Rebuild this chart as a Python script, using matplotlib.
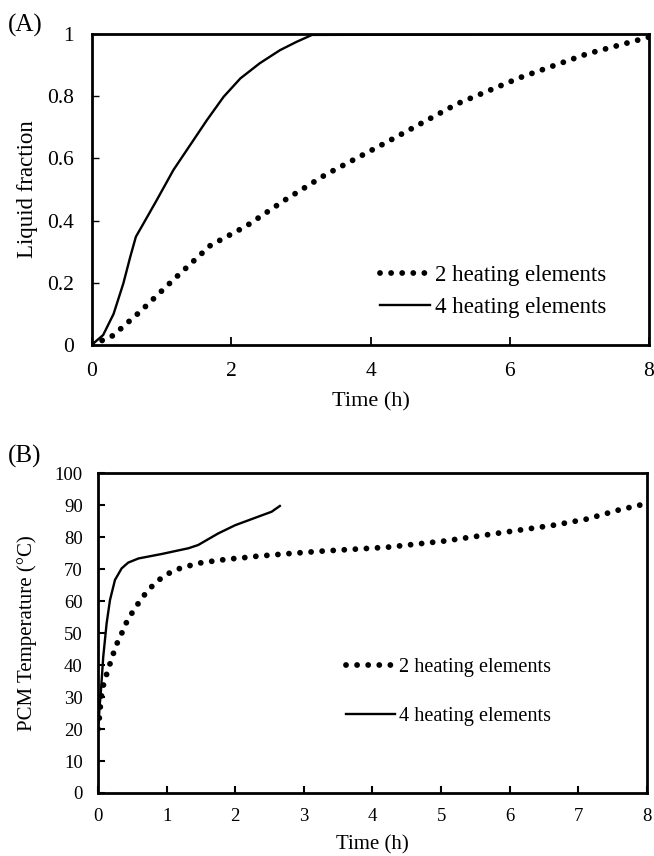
import numpy as np
import matplotlib
matplotlib.use('Agg')
from matplotlib import pyplot as plt

plt.rcParams['font.family'] = ['Liberation Serif', 'DejaVu Serif']

# (A) liquid fraction vs time
t2_frac = [0.0, 0.16, 0.30, 0.69, 1.17, 1.70, 2.22, 2.77, 3.35, 4.24, 5.24, 6.15, 7.11, 7.90, 8.0]
frac2 = [0.0, 0.016, 0.03, 0.107, 0.21, 0.32, 0.383, 0.466, 0.547, 0.653, 0.775, 0.86, 0.936, 0.984, 0.99]
t4_frac = [0.0, 0.02, 0.16, 0.31, 0.45, 0.55, 0.63, 0.74, 0.93, 1.17, 1.41, 1.65, 1.89,
           2.13, 2.41, 2.70, 2.94, 3.16, 8.0]
frac4 = [0.0, 0.005, 0.032, 0.10, 0.198, 0.284, 0.348, 0.391, 0.466, 0.563, 0.643, 0.723, 0.798,
         0.857, 0.906, 0.948, 0.975, 0.997, 1.0]

# (B) PCM temperature vs time
t2_temp = [0.0, 0.015, 0.03, 0.044, 0.063, 0.11, 0.16, 0.21, 0.26, 0.33, 0.39, 0.47, 0.56, 0.65,
           0.75, 0.87, 1.0, 1.15, 1.31, 1.46, 1.62, 1.79, 1.95, 2.11, 2.27, 2.43, 2.6, 2.77,
           3.27, 4.21, 5.03, 5.83, 6.64, 7.12, 7.58, 7.9, 8.0]
temp2 = [20.0, 22.3, 26.0, 29.0, 32.5, 36.0, 39.4, 42.6, 46.0, 49.0, 52.3, 55.4, 58.4, 61.2,
         63.8, 66.3, 68.3, 69.9, 70.9, 71.8, 72.3, 72.8, 73.2, 73.5, 73.9, 74.2, 74.5, 74.8,
         75.6, 76.8, 78.7, 81.2, 83.7, 85.6, 88.4, 90.0, 90.5]
t4_temp = [0.01, 0.024, 0.044, 0.077, 0.126, 0.175, 0.248, 0.345, 0.44, 0.59, 0.93, 1.32, 1.46,
           1.75, 2.0, 2.34, 2.53, 2.65]
temp4 = [22.0, 27.0, 32.2, 42.6, 53.0, 60.3, 66.6, 70.2, 72.0, 73.3, 74.7, 76.5, 77.5,
         81.1, 83.7, 86.4, 87.9, 89.7]

labels = ['2 heating elements', '4 heating elements']

dot_style = dict(color='black', lw=4.2, linestyle=(0, (0.001, 1.9)),
                 dash_capstyle='round', solid_capstyle='round')
line_style = dict(color='black', lw=1.7)

fig = plt.figure(figsize=(6.54, 8.56), dpi=100)
ax1 = fig.add_axes([0.1407, 0.5970, 0.8517, 0.3633])
ax2 = fig.add_axes([0.1498, 0.0736, 0.8395, 0.3738])

# panel A
ax1.plot(t2_frac, frac2, label=labels[0], **dot_style)
ax1.plot(t4_frac, frac4, label=labels[1], **line_style)
ax1.set_xlim(0, 8)
ax1.set_ylim(0, 1)
ax1.set_xticks([0, 2, 4, 6, 8])
ax1.set_yticks([0, 0.2, 0.4, 0.6, 0.8, 1.0])
ax1.set_yticklabels(['0', '0.2', '0.4', '0.6', '0.8', '1'])
ax1.tick_params(axis='x', direction='in', length=6, width=1.3, pad=12, labelsize=15.5)
ax1.tick_params(axis='y', direction='in', length=5, width=1.0, pad=13, labelsize=15.5)
ax1.set_xlabel('Time (h)', fontsize=16)
ax1.set_ylabel('Liquid fraction', fontsize=16.5)
ax1.xaxis.set_label_coords(0.5, -0.151)
ax1.yaxis.set_label_coords(-0.097, 0.5)
ax1.legend(loc='center left', bbox_to_anchor=(0.517, 0.172), frameon=False,
           borderpad=0, borderaxespad=0, handlelength=2.2, handletextpad=0.2,
           labelspacing=0.5, fontsize=16.5)

# panel B
ax2.plot(t2_temp, temp2, label=labels[0], **dot_style)
ax2.plot(t4_temp, temp4, label=labels[1], **line_style)
ax2.set_xlim(0, 8)
ax2.set_ylim(0, 100)
ax2.set_xticks(range(0, 9))
ax2.set_yticks(range(0, 101, 10))
ax2.tick_params(direction='in', length=5, width=1.5, pad=11, labelsize=13.5)
ax2.set_xlabel('Time (h)', fontsize=15)
ax2.set_ylabel('PCM Temperature (°C)', fontsize=15)
ax2.xaxis.set_label_coords(0.5, -0.131)
ax2.yaxis.set_label_coords(-0.111, 0.5)
ax2.legend(loc='center left', bbox_to_anchor=(0.452, 0.316), frameon=False,
           borderpad=0, borderaxespad=0, handlelength=2.4, handletextpad=0.2,
           labelspacing=1.45, fontsize=14.6)

for ax in (ax1, ax2):
    for sp in ax.spines.values():
        sp.set_linewidth(2)

fig.text(8 / 654, 1 - 32 / 856, '(A)', fontsize=18, va='baseline')
fig.text(8 / 654, 1 - 463 / 856, '(B)', fontsize=18, va='baseline')

fig.savefig('out.png', dpi=100)
